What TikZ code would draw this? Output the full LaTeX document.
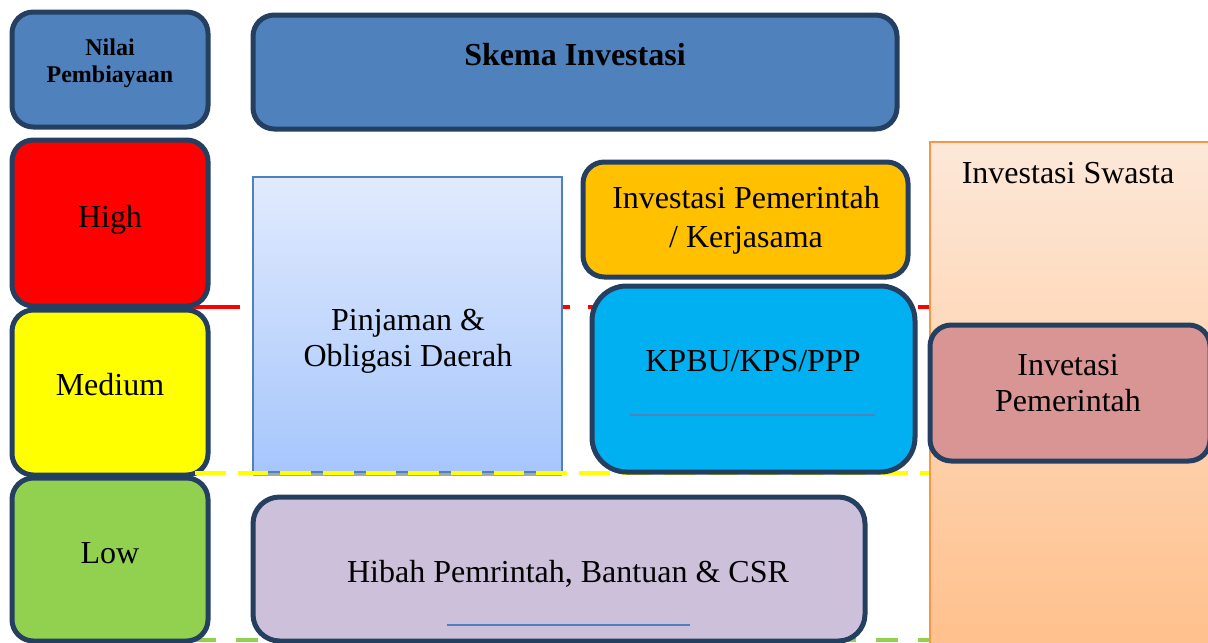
\documentclass[tikz,border=0pt]{standalone}
\usepackage{fontspec}
\setmainfont{Liberation Serif}
\definecolor{navy}{HTML}{243F60}
\definecolor{hdrblue}{HTML}{4F81BD}
\definecolor{lvlred}{HTML}{FF0000}
\definecolor{lvlyellow}{HTML}{FFFF00}
\definecolor{lvlgreen}{HTML}{92D050}
\definecolor{amber}{HTML}{FFC000}
\definecolor{cyanbox}{HTML}{00B0F0}
\definecolor{rosebox}{HTML}{D99594}
\definecolor{lilac}{HTML}{CCC0DA}
\definecolor{peachtop}{HTML}{FDE8D8}
\definecolor{peachbot}{HTML}{FFC08C}
\definecolor{peachedge}{HTML}{F79646}
\definecolor{paletop}{HTML}{E1EBFD}
\definecolor{palebot}{HTML}{A6C6FC}
\begin{document}
\begin{tikzpicture}[x=0.75pt,y=-0.75pt,
  tile/.style={draw=navy, line width=3.75pt, rounded corners=16pt},
  lbl/.style={font=\fontsize{24}{28}\selectfont, anchor=base, inner sep=0pt},
  hdr/.style={font=\fontsize{18}{22}\selectfont\bfseries, anchor=base, inner sep=0pt},
  hdrbig/.style={font=\fontsize{24}{28}\selectfont\bfseries, anchor=base, inner sep=0pt},
  rule/.style={draw=hdrblue, line width=1.1pt},
  level/.style={line width=3.5pt}]
\useasboundingbox (0,0) rectangle (1208,643);
\clip (0,0) rectangle (1208,643);

% level boundaries, behind the boxes
\draw[level, lvlred, dash pattern=on 36pt off 13.5pt] (192,307) -- (935,307);
\draw[level, lvlgreen, dash pattern=on 17pt off 15pt] (193,640) -- (935,640);

% header row
\draw[tile, fill=hdrblue] (12,12) rectangle (208,127);
\node[hdr] (nilai) at (110,55) {Nilai};
\node[hdr] (pembiayaan) at (110,82) {Pembiayaan};
\draw[tile, fill=hdrblue] (253,15) rectangle (897,129);
\node[hdrbig] (skema) at (575,65) {Skema Investasi};

% value levels
\draw[tile, fill=lvlred] (12,140) rectangle (208,306);
\node[lbl] (high) at (110,227) {High};
\draw[tile, fill=lvlyellow] (12,310) rectangle (208,475);
\node[lbl] (medium) at (110,395) {Medium};
\draw[tile, fill=lvlgreen] (12,478) rectangle (208,641);
\node[lbl] (low) at (110,563) {Low};

% regional loans and bonds
\fill[gray!70] (253,471) rectangle (562,476);
\shade[top color=paletop, bottom color=palebot, draw=hdrblue, line width=1.5pt]
  (253,177) rectangle (562,472);
\node[lbl] (pinjaman) at (408,330) {Pinjaman \&};
\node[lbl] (obligasi) at (408,366) {Obligasi Daerah};
\draw[level, lvlyellow, dash pattern=on 23pt off 9pt] (195,473) -- (935,473);

% government investment / cooperation
\draw[tile, fill=amber] (583,162) rectangle (908,277);
\node[lbl] (invpem) at (746,208) {Investasi Pemerintah};
\node[lbl] (kerjasama) at (746,247) {/ Kerjasama};

% PPP schemes
\draw[tile, fill=cyanbox, rounded corners=26pt] (592,286) rectangle (915,472);
\node[lbl] (kpbu) at (753,371) {KPBU/KPS/PPP};
\draw[rule] (630,415) -- (875,415);

% private investment column
\shade[top color=peachtop, bottom color=peachbot, draw=peachedge, line width=1.5pt]
  (930,142) rectangle (1212,648);
\node[lbl] (swasta) at (1068,183) {Investasi Swasta};
\draw[tile, fill=rosebox] (930,325) rectangle (1210,461);
\node[lbl] (invetasi) at (1068,375) {Invetasi};
\node[lbl] (pemerintah) at (1068,411) {Pemerintah};

% grants and CSR
\draw[tile, fill=lilac, rounded corners=20pt] (253,497) rectangle (865,641);
\node[lbl] (hibah) at (568,582) {Hibah Pemrintah, Bantuan \& CSR};
\draw[rule] (447,625) -- (690,625);
\end{tikzpicture}
\end{document}
